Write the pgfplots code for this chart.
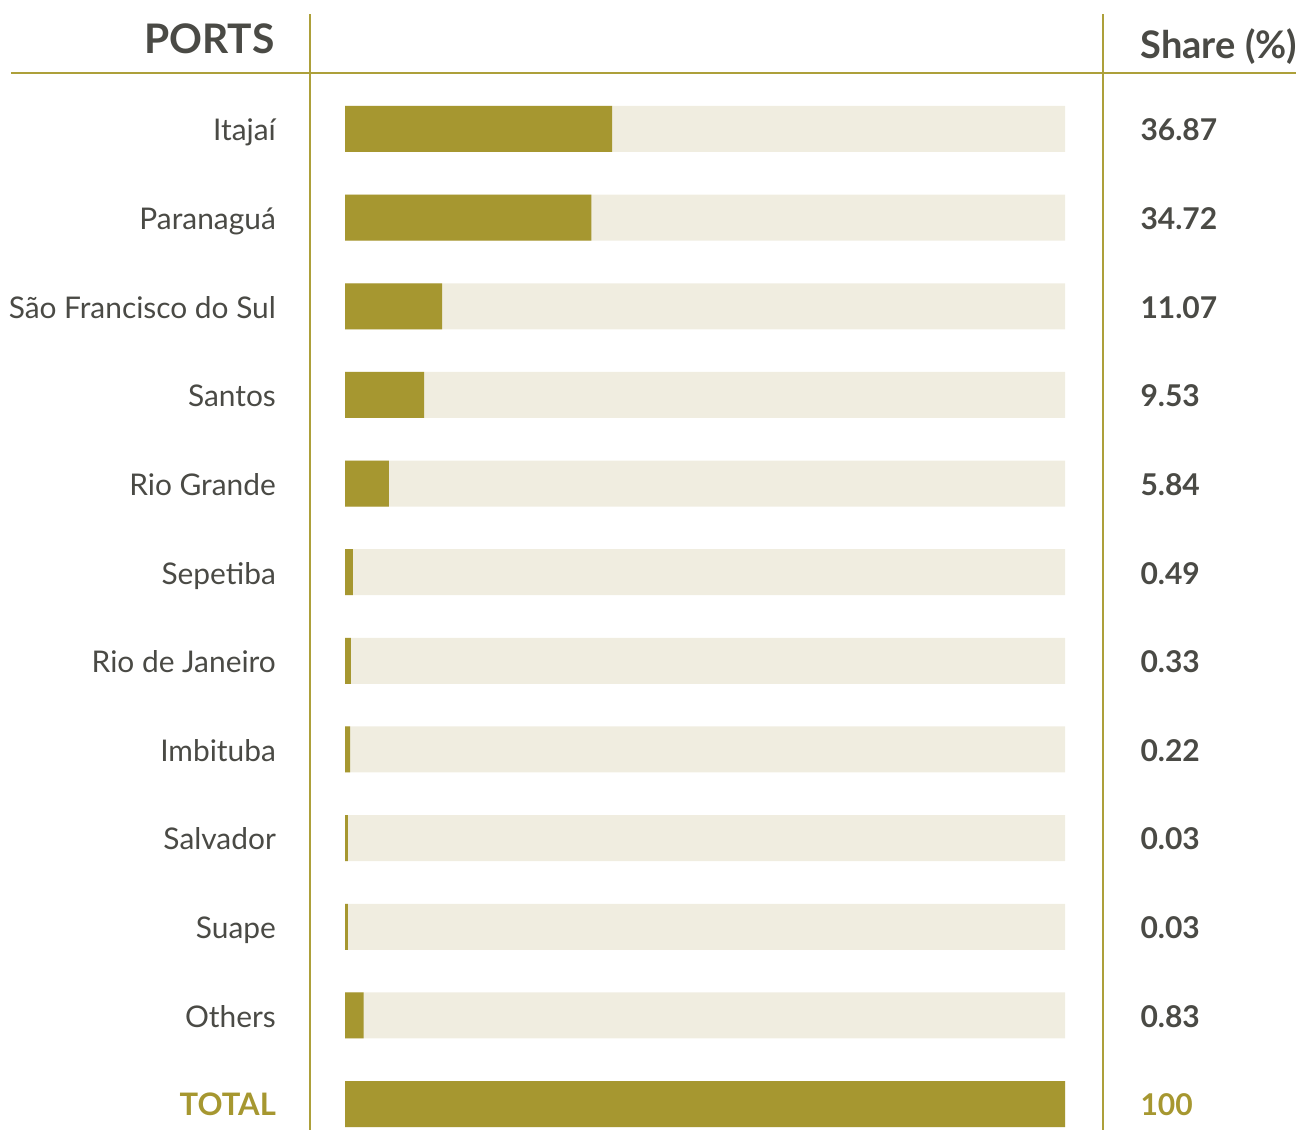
\documentclass[border=0pt]{standalone}
\usepackage{pgfplots}
\pgfplotsset{compat=1.18}
\usepackage{fontspec}
\setmainfont{Lato}

\definecolor{barolive}{HTML}{A69730}
\definecolor{barbg}{HTML}{F0EDE0}
\definecolor{rule}{HTML}{ADA03A}
\definecolor{txt}{HTML}{4A4A45}

\begin{document}
\begin{tikzpicture}
\begin{axis}[
    scale only axis,
    width=288pt, height=452pt,
    xmin=0, xmax=100,
    ymin=-1.455, ymax=11.293,
    y dir=reverse,
    enlargelimits=false,
    clip=false,
    axis line style={draw=none},
    tick style={draw=none},
    xtick=\empty,
    ytick={0,...,11},
    yticklabels={Itajaí, Paranaguá, São Francisco do Sul, Santos, Rio Grande,
        Sepetiba, Rio de Janeiro, Imbituba, Salvador, Suape, Others,
        {\bfseries\fontsize{12.4}{14}\selectfont\color{barolive}TOTAL}},
    yticklabel style={anchor=east, inner sep=0pt, xshift=-23.2pt, yshift=-1.2pt,
        text height=1.4ex, text depth=0pt,
        font=\fontsize{11.95}{14}\selectfont, text=txt},
    xbar,
    bar shift=0pt,
    bar width=18.4pt,
]
% background track, with the share printed beside it
\addplot[fill=barbg, draw=none,
    nodes near coords,
    point meta=explicit symbolic,
    every node near coord/.style={anchor=west, inner sep=0pt, xshift=30pt,
        yshift=-1.2pt, text height=1.4ex, text depth=0pt,
        font=\bfseries\fontsize{12}{14}\selectfont, text=txt}]
coordinates {
    (100,0) [36.87]
    (100,1) [34.72]
    (100,2) [11.07]
    (100,3) [9.53]
    (100,4) [5.84]
    (100,5) [0.49]
    (100,6) [0.33]
    (100,7) [0.22]
    (100,8) [0.03]
    (100,9) [0.03]
    (100,10) [0.83]
    (100,11) [\color{barolive}100]
};
% bar lengths as drawn in the source
\addplot[fill=barolive, draw=none] coordinates {
    (37.1,0) (34.2,1) (13.5,2) (11.0,3) (6.1,4) (1.1,5)
    (0.83,6) (0.7,7) (0.4,8) (0.4,9) (2.6,10) (100,11)
};

\draw[rule, line width=0.8pt] (axis cs:-46.39,-0.632) -- (axis cs:132.08,-0.632);
\draw[rule, line width=0.8pt] (axis cs:-4.861,-1.297) -- (axis cs:-4.861,11.293);
\draw[rule, line width=0.8pt] (axis cs:105.28,-1.297) -- (axis cs:105.28,11.293);

\node[anchor=east, inner sep=0pt, text height=1.4ex, text depth=0pt,
    yshift=-2pt, font=\bfseries\fontsize{16.3}{18}\selectfont, text=txt]
    at (axis cs:-9.72,-1.004) {PORTS};
\node[anchor=west, inner sep=0pt, text height=1.4ex, text depth=0pt,
    yshift=-2pt, font=\bfseries\fontsize{15.2}{17}\selectfont, text=txt]
    at (axis cs:110.42,-0.948) {Share (\%)};

\path (axis cs:-47.92,-1.455) rectangle (axis cs:132.36,11.293);
\end{axis}
\end{tikzpicture}
\end{document}
